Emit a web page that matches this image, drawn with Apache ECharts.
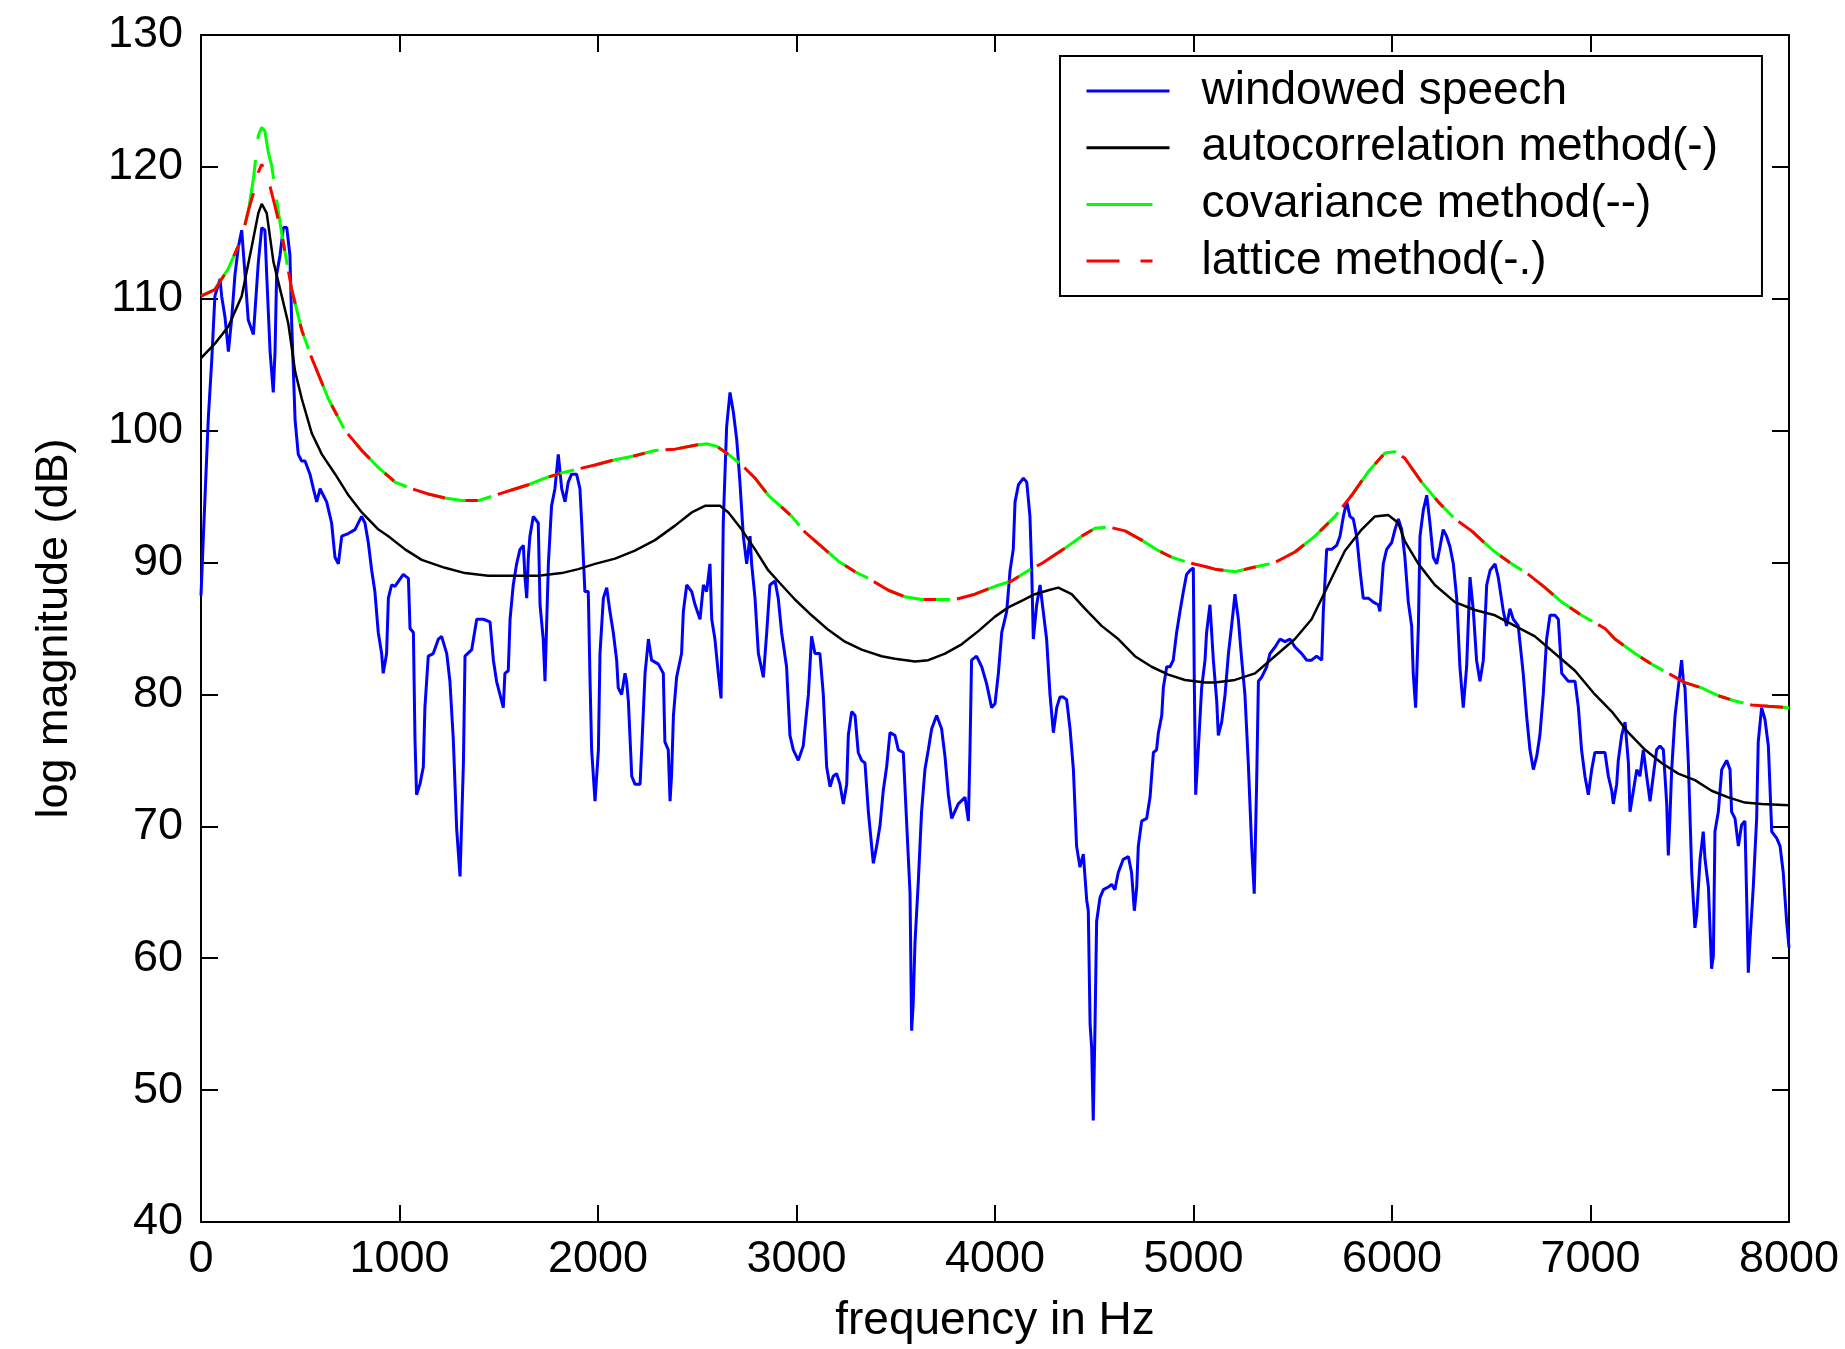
<!DOCTYPE html>
<html>
<head>
<meta charset="utf-8">
<script src="https://cdn.jsdelivr.net/npm/echarts/dist/echarts.min.js"></script>
<style>
html,body{margin:0;padding:0;background:#fff;}
#chart{width:1845px;height:1349px;}
</style>
</head>
<body>
<div id="chart"></div>
<script>
// ---- data ----
const seriesNames = ['windowed speech', 'autocorrelation method(-)', 'covariance method(--)', 'lattice method(-.)'];

const speechFreq = [0,12,37,54,70,96,104,121,138,154,171,188,205,222,238,264,289,306,322,331,348,364,373,381,398,415,432,448,457,474,490,507,524,549,566,583,600,616,633,658,675,692,709,742,776,809,826,843,860,876,893,910,918,935,944,960,977,1019,1045,1053,1070,1078,1086,1103,1120,1128,1145,1170,1196,1212,1238,1254,1271,1288,1305,1322,1330,1364,1389,1422,1456,1473,1489,1506,1523,1531,1548,1557,1573,1590,1607,1624,1632,1641,1649,1657,1674,1699,1708,1724,1733,1750,1766,1783,1800,1817,1834,1850,1867,1892,1909,1918,1934,1951,1960,1968,1985,2002,2010,2027,2044,2060,2077,2094,2102,2119,2136,2144,2153,2170,2186,2212,2220,2237,2254,2270,2304,2329,2337,2354,2363,2371,2380,2396,2421,2430,2447,2472,2489,2514,2531,2547,2564,2573,2589,2606,2620,2631,2648,2665,2682,2699,2715,2732,2749,2766,2774,2791,2808,2833,2850,2866,2892,2908,2925,2950,2967,2984,3009,3034,3060,3076,3093,3118,3135,3152,3169,3185,3202,3219,3236,3253,3261,3278,3295,3311,3328,3345,3362,3387,3404,3421,3437,3454,3471,3496,3513,3538,3572,3580,3588,3597,3614,3630,3647,3664,3681,3706,3731,3748,3765,3782,3815,3849,3866,3874,3882,3907,3933,3958,3983,4000,4017,4034,4059,4076,4092,4101,4118,4143,4160,4176,4185,4193,4210,4227,4243,4260,4277,4294,4311,4327,4344,4361,4378,4395,4411,4428,4445,4462,4470,4479,4487,4495,4504,4512,4529,4546,4571,4588,4604,4621,4646,4672,4688,4702,4714,4722,4739,4764,4781,4798,4814,4823,4840,4848,4865,4882,4898,4915,4932,4949,4965,4982,4999,5004,5011,5024,5041,5058,5066,5083,5100,5117,5125,5142,5159,5176,5192,5209,5226,5243,5259,5276,5293,5306,5318,5327,5343,5369,5385,5411,5436,5461,5486,5511,5545,5570,5595,5620,5646,5654,5671,5696,5721,5738,5755,5772,5788,5805,5822,5839,5855,5881,5906,5931,5939,5956,5973,5998,6015,6032,6049,6065,6082,6099,6107,6119,6133,6141,6158,6175,6191,6208,6225,6242,6258,6275,6292,6309,6326,6342,6359,6376,6393,6410,6426,6443,6460,6477,6494,6519,6535,6561,6577,6594,6611,6636,6661,6678,6695,6712,6729,6745,6762,6779,6796,6821,6838,6855,6888,6922,6939,6955,6972,6989,7006,7022,7048,7073,7090,7107,7115,7132,7140,7157,7174,7191,7199,7216,7233,7249,7266,7283,7300,7316,7333,7350,7367,7384,7392,7400,7409,7426,7442,7459,7468,7476,7493,7510,7526,7535,7552,7568,7577,7594,7610,7619,7627,7644,7661,7686,7703,7711,7728,7745,7761,7778,7787,7795,7803,7820,7837,7845,7862,7879,7896,7913,7938,7955,7971,7988,8000];
const speechDb = [87.5,92,101,105.3,110.2,111.5,110.2,108.6,106,108.4,111.8,113.9,115.2,111.8,108.4,107.3,112.8,115.4,115.2,111.8,106,102.9,106,111.8,113.3,115.4,115.4,113.3,108.1,100.8,98.2,97.7,97.7,96.7,95.6,94.6,95.6,95.1,94.6,93,90.4,89.9,92,92.2,92.5,93.5,93,91.5,89.4,87.8,84.7,83.1,81.6,83.1,87.3,88.3,88.2,89.1,88.8,85,84.7,76.6,72.4,73.2,74.5,79,82.9,83.1,84.2,84.4,83.1,81,76.6,69.8,66.2,74.8,82.9,83.4,85.7,85.7,85.5,82.6,81,80,79,81.6,81.8,85.7,88.3,89.9,91,91.3,88.9,87.3,90.4,92,93.5,93,86.8,84.2,81,89.9,94.3,95.6,98.2,95.6,94.6,96.1,96.7,96.7,95.6,93,87.8,87.8,81,75.8,71.9,75.8,83.1,87.3,88.1,86.3,84.7,82.6,80.5,80,81.6,81,79.5,73.8,73.2,73.2,75.8,81.6,84.2,82.6,82.3,81.6,76.4,75.8,71.9,74,78.4,81.3,83.1,86.3,88.3,87.8,86.8,85.7,88.3,87.8,89.9,85.7,84.2,81.6,79.7,93,100.3,102.9,101.4,99.3,96.1,92,89.9,92,89.9,87.3,83.1,81.3,84.7,88.3,88.6,87.3,84.7,82.1,76.9,75.8,75,76.1,80,84.4,83.1,83.1,80,74.5,73,73.8,74,73.2,71.7,73.2,76.9,78.7,78.4,75.6,75,74.8,71.1,67.2,68.5,70.1,72.7,74.5,77.1,76.9,75.8,75.6,64.9,54.5,56.6,61.2,65.9,71.1,74.3,75.8,77.4,78.4,77.4,75.3,72.4,70.6,71.7,72.2,70.4,75.8,82.6,82.9,82.1,80.8,79,79.3,81.6,84.7,86.3,89.4,91,94.6,95.9,96.4,96.1,93.5,89.4,84.2,86.8,88.3,86.3,84.2,80,77.1,79,79.8,79.8,79.6,77.4,74.3,68.5,66.9,67.9,64.4,63.6,55,53.2,47.7,55,62.8,64.6,65.2,65.4,65.6,65.2,66.5,67.5,67.7,66.5,63.6,65.4,68.5,70.4,70.6,72.2,75.6,75.8,77.1,78.4,80.5,82.1,82.1,82.6,84.7,86.3,87.8,89.1,89.4,89.6,81,72.4,75.8,80.5,82.6,84.7,86.8,82.6,79.5,76.9,77.9,80,83.1,85.2,87.6,85.7,82.6,80,74.8,68.5,64.9,73.2,81,81.3,82.1,83.1,83.6,84.2,84,84.2,83.6,83.1,82.6,82.6,82.9,82.6,86.3,91,91,91.3,92,93.5,94.6,93.5,93.3,92,89.4,87.3,87.3,87,86.8,86.3,89.9,91,91.5,92.5,93.3,92.5,90.4,87,85.2,81.6,79,85.2,92,94,95.1,93,90.4,89.9,91.2,92.5,92,91.2,89.9,87.3,82.1,79,82.1,88.9,86.3,82.6,81,82.6,88.3,89.4,89.9,88.9,86.3,85.2,86.5,85.7,85.2,81.6,78.4,75.8,74.3,75.3,76.9,80,84.2,86,86,85.7,81.6,81,81,79,75.8,73.8,72.4,74.3,75.6,75.6,75.6,73.8,72.7,71.7,73.2,75,76.9,77.9,74.8,71.1,72.7,74.3,73.8,75.8,73.8,71.9,73.8,75.8,76.1,75.8,71.7,67.8,70.6,74.3,78.4,80.5,82.6,81,80.5,74.8,66.5,62.3,63.3,67.5,69.6,67.5,65.4,59.2,60.2,69.6,71.1,74.3,75,74.3,71.1,70.6,68.5,70.1,70.4,64.4,58.9,61.2,65.4,70.6,76.4,79,78.1,76.1,69.6,69.1,68.5,66.5,62.8,60.8];

const autoFreq = [0,70,138,205,255,289,306,331,365,407,440,474,508,558,609,676,743,810,894,944,1028,1112,1229,1330,1447,1565,1699,1817,1901,1985,2086,2186,2287,2388,2472,2539,2615,2657,2724,2791,2858,2925,2992,3076,3160,3244,3328,3429,3496,3597,3664,3748,3832,3916,4000,4067,4134,4201,4269,4319,4386,4453,4537,4621,4705,4789,4873,4957,5058,5108,5209,5310,5410,5511,5595,5679,5763,5847,5914,5981,6032,6065,6133,6216,6317,6418,6519,6619,6720,6821,6922,7022,7107,7191,7275,7358,7442,7526,7610,7694,7778,7862,8000];
const autoDb = [105.5,106.6,107.9,110.2,113.9,116.5,117.2,116.5,112.8,110.2,108.1,104.5,102.4,99.8,98.2,96.7,95.1,93.8,92.5,92,91,90.2,89.6,89.2,89,89,89,89.2,89.5,89.9,90.3,90.9,91.7,92.8,93.8,94.3,94.3,93.8,92.5,91,89.4,88.3,87.2,86,84.9,84,83.4,82.9,82.7,82.5,82.6,83.1,83.8,84.8,85.9,86.6,87.1,87.6,87.9,88.1,87.6,86.5,85.2,84.2,82.9,82.1,81.5,81.1,80.9,80.9,81.1,81.6,82.9,84.2,85.7,88.3,90.9,92.5,93.5,93.6,93,91.6,89.9,88.3,87,86.4,86,85.2,84.4,83.1,81.8,80,78.7,77.1,75.8,74.8,74,73.5,72.7,72.2,71.8,71.7,71.6];

const covFreq = [0,70,138,205,239,264,289,306,322,339,356,381,407,457,508,558,642,726,810,894,978,1061,1145,1229,1313,1397,1481,1565,1649,1733,1817,1901,1985,2086,2186,2287,2388,2489,2550,2600,2657,2724,2791,2858,2925,2976,3043,3127,3211,3295,3362,3463,3546,3630,3714,3798,3899,4000,4084,4168,4243,4344,4437,4504,4571,4655,4739,4823,4890,4974,5058,5108,5209,5293,5410,5511,5612,5713,5797,5881,5964,6015,6065,6149,6233,6317,6401,6451,6519,6603,6687,6771,6855,6955,7073,7123,7224,7308,7392,7476,7560,7644,7728,7812,7896,8000];
const covDb = [110.2,110.7,112.3,114.6,116.7,119.1,122.4,123,122.7,121.1,120.1,117.5,114.9,110.7,107.6,105.5,102.4,100,98.5,97.2,96.1,95.6,95.2,94.9,94.7,94.7,95.1,95.5,95.9,96.4,96.8,97.1,97.4,97.8,98.1,98.5,98.6,98.9,99,98.8,98.2,97.4,96.4,95.1,94.2,93.5,92.3,91.2,90.1,89.3,88.8,87.9,87.4,87.2,87.2,87.2,87.6,88.2,88.6,89.4,90,91,92,92.6,92.7,92.4,91.7,90.9,90.4,90,89.7,89.5,89.3,89.6,90,90.8,92,93.5,95.1,96.9,98.3,98.4,97.9,96.1,94.6,93.3,92.4,91.7,90.8,89.9,89.1,88.1,87,86,85,84.2,83.1,82.3,81.6,80.9,80.5,79.9,79.5,79.2,79.1,79];

const latFreq = [0,70,138,205,239,264,289,306,331,348,373,407,457,508,558,642,726,810,894,978,1061,1145,1229,1313,1397,1481,1565,1649,1733,1817,1901,1985,2086,2186,2287,2388,2489,2550,2600,2657,2724,2791,2858,2925,2976,3043,3127,3211,3295,3362,3463,3546,3630,3714,3798,3899,4000,4084,4168,4243,4344,4437,4504,4571,4655,4739,4823,4890,4974,5058,5108,5209,5293,5410,5511,5612,5713,5797,5881,5964,6015,6065,6149,6233,6317,6401,6451,6519,6603,6687,6771,6855,6955,7073,7123,7224,7308,7392,7476,7560,7644,7728,7812,7896,8000];
const latDb = [110.2,110.7,112.3,114.6,116.7,118,119.6,120.2,119.3,118.5,117,114.9,110.7,107.6,105.5,102.4,100,98.5,97.2,96.1,95.6,95.2,94.9,94.7,94.7,95.1,95.5,95.9,96.4,96.8,97.1,97.4,97.8,98.1,98.5,98.6,98.9,99,98.8,98.2,97.4,96.4,95.1,94.2,93.5,92.3,91.2,90.1,89.3,88.8,87.9,87.4,87.2,87.2,87.2,87.6,88.2,88.6,89.4,90,91,92,92.6,92.7,92.4,91.7,90.9,90.4,90,89.7,89.5,89.3,89.6,90,90.8,92,93.5,95.1,96.9,98.3,98.4,97.9,96.1,94.6,93.3,92.4,91.7,90.8,89.9,89.1,88.1,87,86,85,84.2,83.1,82.3,81.6,80.9,80.5,79.9,79.5,79.2,79.1,79];

const xRange = {min: 0, max: 8000, interval: 1000};
const yRange = {min: 40, max: 130, interval: 10};
const xTitle = 'frequency in Hz';
const yTitle = 'log magnitude (dB)';

// ---- chart ----
const pairs = (xs, ys) => xs.map((x, i) => [x, ys[i]]);
const FONT = "'Liberation Sans', Arial, sans-serif";
const axisLineStyle = {show: true, onZero: false, lineStyle: {color: '#000', width: 2}};
const tickStyle = {show: true, inside: true, length: 17, lineStyle: {color: '#000', width: 2}};
const plain = v => String(v);

const chart = echarts.init(document.getElementById('chart'), null, {renderer: 'canvas'});
chart.setOption({
  animation: false,
  backgroundColor: '#fff',
  grid: {left: 201, right: 56, top: 35, bottom: 125, containLabel: false},
  legend: {
    orient: 'vertical', left: 1060, top: 56,
    padding: [12, 44, 12, 25],
    itemWidth: 83, itemHeight: 46, itemGap: 10.7,
    backgroundColor: '#fff', borderColor: '#000', borderWidth: 2,
    itemStyle: {opacity: 0},
    lineStyle: {width: 3},
    textStyle: {fontSize: 46, fontFamily: FONT, color: '#000', lineHeight: 46, padding: [0, 0, 0, 27]},
    data: seriesNames
  },
  xAxis: [
    Object.assign({type: 'value', position: 'bottom', name: xTitle, nameLocation: 'middle', nameGap: 76,
      nameTextStyle: {fontSize: 46, fontFamily: FONT, color: '#000'},
      axisLine: axisLineStyle, axisTick: tickStyle, splitLine: {show: false},
      axisLabel: {fontSize: 45, fontFamily: FONT, color: '#000', margin: 15, formatter: plain}}, xRange),
    Object.assign({type: 'value', position: 'top', axisLine: axisLineStyle, axisTick: tickStyle,
      splitLine: {show: false}, axisLabel: {show: false}}, xRange)
  ],
  yAxis: [
    Object.assign({type: 'value', position: 'left', name: yTitle, nameLocation: 'middle', nameGap: 124,
      nameTextStyle: {fontSize: 45, fontFamily: FONT, color: '#000'},
      axisLine: axisLineStyle, axisTick: tickStyle, splitLine: {show: false},
      axisLabel: {fontSize: 45, fontFamily: FONT, color: '#000', margin: 18, formatter: plain}}, yRange),
    Object.assign({type: 'value', position: 'right', axisLine: axisLineStyle, axisTick: tickStyle,
      splitLine: {show: false}, axisLabel: {show: false}}, yRange)
  ],
  series: [
    {name: seriesNames[0], type: 'line', symbol: 'none', showSymbol: false, data: pairs(speechFreq, speechDb),
      lineStyle: {color: '#0000ff', width: 3}, itemStyle: {color: '#0000ff'}},
    {name: seriesNames[1], type: 'line', symbol: 'none', showSymbol: false, data: pairs(autoFreq, autoDb),
      lineStyle: {color: '#000000', width: 2.5}, itemStyle: {color: '#000000'}},
    {name: seriesNames[2], type: 'line', symbol: 'none', showSymbol: false, data: pairs(covFreq, covDb),
      lineStyle: {color: '#00ff00', width: 3, type: [66, 21]}, itemStyle: {color: '#00ff00'}},
    {name: seriesNames[3], type: 'line', symbol: 'none', showSymbol: false, data: pairs(latFreq, latDb),
      lineStyle: {color: '#ff0000', width: 3, type: [33, 21, 12, 21]}, itemStyle: {color: '#ff0000'}}
  ]
});
</script>
</body>
</html>
